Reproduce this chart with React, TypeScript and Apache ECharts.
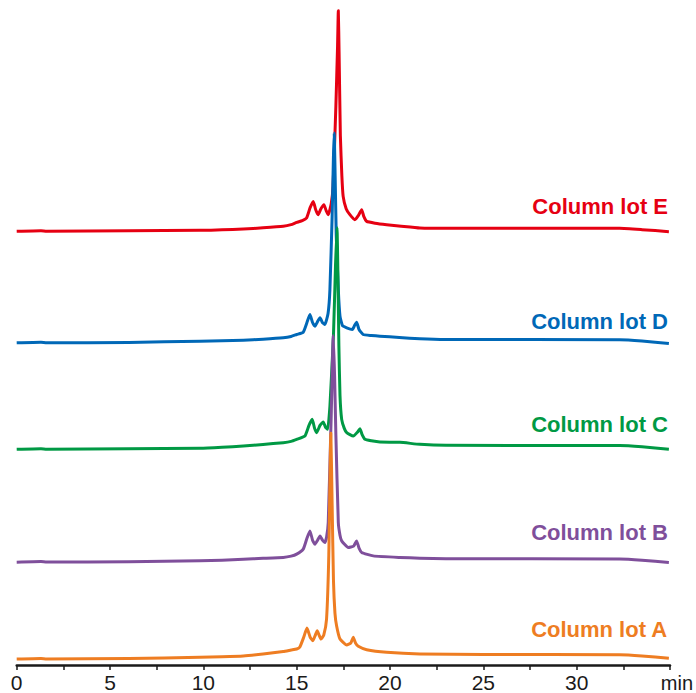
import React, { useEffect, useRef } from "react";
import * as echarts from "echarts";

// retention time axis (min)
const timeTicks = [0, 5, 10, 15, 20, 25, 30];
const seriesNames = ["Column lot E", "Column lot D", "Column lot C", "Column lot B", "Column lot A"];
const seriesColors = ["#e60012", "#0068b7", "#009944", "#7f4f9b", "#ee7d22"];

// [time (min), stacked signal]
const lotE: [number, number][] = [
  [0, 434.3], [1.3, 434.9], [1.6, 434.4], [6, 435], [9.82, 435.3], [11, 435.8], [12.14, 436.7],
  [13.2, 437.8], [14.28, 439.3], [14.7, 441], [15.0, 443.3], [15.3, 445], [15.53, 447.7],
  [15.72, 458], [15.89, 464.3], [16.02, 456], [16.15, 451], [16.3, 457], [16.46, 461],
  [16.58, 455], [16.69, 451], [16.85, 462], [16.95, 480], [17.1, 560], [17.19, 620],
  [17.23, 655.3], [17.27, 615], [17.34, 530], [17.42, 490], [17.49, 469.3], [17.65, 457],
  [17.85, 451], [18.12, 446], [18.3, 450], [18.48, 456], [18.6, 449], [18.75, 444.3],
  [19.2, 442.5], [19.82, 441], [20.6, 439.5], [21.6, 437.7], [23, 437.3], [32.3, 437.3],
  [33.5, 436], [34.94, 434],
];
const lotD: [number, number][] = [
  [0, 322.7], [1.3, 323.3], [1.6, 322.8], [6, 323], [9.82, 324.3], [11, 324.7], [12.14, 325.3],
  [13.2, 326.3], [14.28, 327.7], [14.7, 329], [15.0, 331], [15.35, 333.3], [15.55, 343],
  [15.71, 351], [15.85, 343], [15.98, 339.3], [16.12, 344], [16.25, 347.7], [16.38, 343],
  [16.51, 341], [16.68, 352], [16.78, 376], [16.9, 450], [16.97, 510], [17.01, 532.7],
  [17.06, 490], [17.12, 430], [17.23, 376], [17.32, 349.3], [17.45, 340], [17.68, 337.7],
  [17.98, 336], [18.1, 340], [18.21, 343.3], [18.34, 336], [18.56, 331], [19.0, 330],
  [19.46, 329.3], [20.5, 328], [21.6, 326.7], [23, 326], [32.3, 325.8], [33.5, 324.5],
  [34.94, 322],
];
const lotC: [number, number][] = [
  [0, 216], [1.3, 216.6], [1.6, 216.1], [6, 216.5], [9.82, 217], [11, 218], [12.14, 219.3],
  [13.2, 220.8], [14.28, 222.7], [14.7, 224], [15.0, 226], [15.44, 229.3], [15.66, 240],
  [15.83, 246], [15.96, 237], [16.07, 232.7], [16.25, 240], [16.42, 243.3], [16.55, 238],
  [16.66, 236], [16.78, 259], [16.97, 330], [17.08, 400], [17.16, 438], [17.21, 390],
  [17.26, 320], [17.32, 270], [17.41, 246], [17.55, 237], [17.68, 232.7], [18.03, 229.3],
  [18.25, 233], [18.39, 236.7], [18.5, 231], [18.66, 226], [19.0, 224.5], [19.46, 223.3],
  [20.53, 223], [21.6, 221], [23, 220], [32.3, 219.8], [33.5, 218.5], [34.94, 216],
];
const lotB: [number, number][] = [
  [0, 103], [1.3, 103.6], [1.6, 103.1], [6, 103.5], [9.82, 104.3], [11, 105], [12.14, 106],
  [13.2, 106.8], [14.28, 107.7], [14.7, 109], [15.0, 111], [15.35, 116], [15.55, 127],
  [15.71, 134.3], [15.85, 125], [15.98, 121], [16.12, 125], [16.25, 129.3], [16.38, 125],
  [16.51, 122.7], [16.6, 128], [16.69, 142.7], [16.85, 250], [16.96, 330], [17.03, 290],
  [17.1, 230], [17.23, 142.7], [17.32, 130], [17.41, 124.3], [17.76, 117.7], [18.05, 119],
  [18.21, 124.3], [18.34, 117], [18.48, 112.7], [19.1, 109.3], [20.53, 107.7], [21.6, 107],
  [23, 106.5], [32.3, 106.2], [33.5, 105], [34.94, 102.7],
];
const lotA: [number, number][] = [
  [0, 6], [1.3, 6.6], [1.6, 6.1], [6, 6.5], [9.82, 7.7], [11, 8.2], [12.14, 9], [13.2, 11],
  [14.28, 13.5], [14.7, 15], [15.0, 16], [15.17, 18], [15.38, 28], [15.55, 37], [15.72, 28],
  [15.87, 24.3], [16.0, 30], [16.1, 34.3], [16.2, 30], [16.3, 26], [16.45, 30], [16.6, 46],
  [16.72, 110], [16.83, 232], [16.9, 160], [16.97, 85], [17.05, 52], [17.14, 39], [17.32, 26],
  [17.68, 20], [17.9, 22], [18.03, 27.7], [18.15, 22], [18.3, 18.7], [18.75, 15.3],
  [19.82, 12.7], [21.6, 11], [25, 10.5], [32.3, 10.2], [33.5, 9], [34.94, 6.7],
];
const seriesData = [lotE, lotD, lotC, lotB, lotA];

export default function App() {
  const ref = useRef<HTMLDivElement>(null);
  useEffect(() => {
    if (!ref.current) return;
    const chart = echarts.init(ref.current, null, { renderer: "svg" });
    const labelY = [207, 322, 425, 533, 630];
    chart.setOption({
      animation: false,
      grid: { left: 16.7, right: 26, top: 0, bottom: 27 },
      xAxis: {
        type: "value",
        min: 0,
        max: 35,
        interval: 2.5,
        splitLine: { show: false },
        axisLine: { lineStyle: { color: "#1a1a1a", width: 2.5 } },
        axisTick: { length: 5, lineStyle: { color: "#1a1a1a", width: 1.5 } },
        axisLabel: {
          margin: 7,
          color: "#1a1a1a",
          fontSize: 21,
          fontFamily: "Liberation Sans, Arial, sans-serif",
          formatter: (v: number) => (timeTicks.includes(v) ? String(v) : ""),
        },
      },
      yAxis: { type: "value", min: 0, max: 666, show: false },
      series: seriesData.map((d, i) => ({
        type: "line",
        name: seriesNames[i],
        data: d,
        showSymbol: false,
        smooth: 0.15,
        lineStyle: { color: seriesColors[i], width: 3, join: "round" },
        z: 2 + i,
      })),
      graphic: [
        ...seriesNames.map((n, i) => ({
          type: "text",
          right: 28,
          top: labelY[i] - 12,
          style: {
            text: n,
            fill: seriesColors[i],
            font: "bold 22px 'Liberation Sans', Arial, sans-serif",
          },
        })),
        {
          type: "text",
          right: 3,
          top: 673,
          style: {
            text: "min",
            fill: "#1a1a1a",
            font: "20px 'Liberation Sans', Arial, sans-serif",
          },
        },
      ],
    });
    return () => chart.dispose();
  }, []);
  return <div ref={ref} style={{ width: 696, height: 693, position: "absolute", left: 0, top: 0 }} />;
}
